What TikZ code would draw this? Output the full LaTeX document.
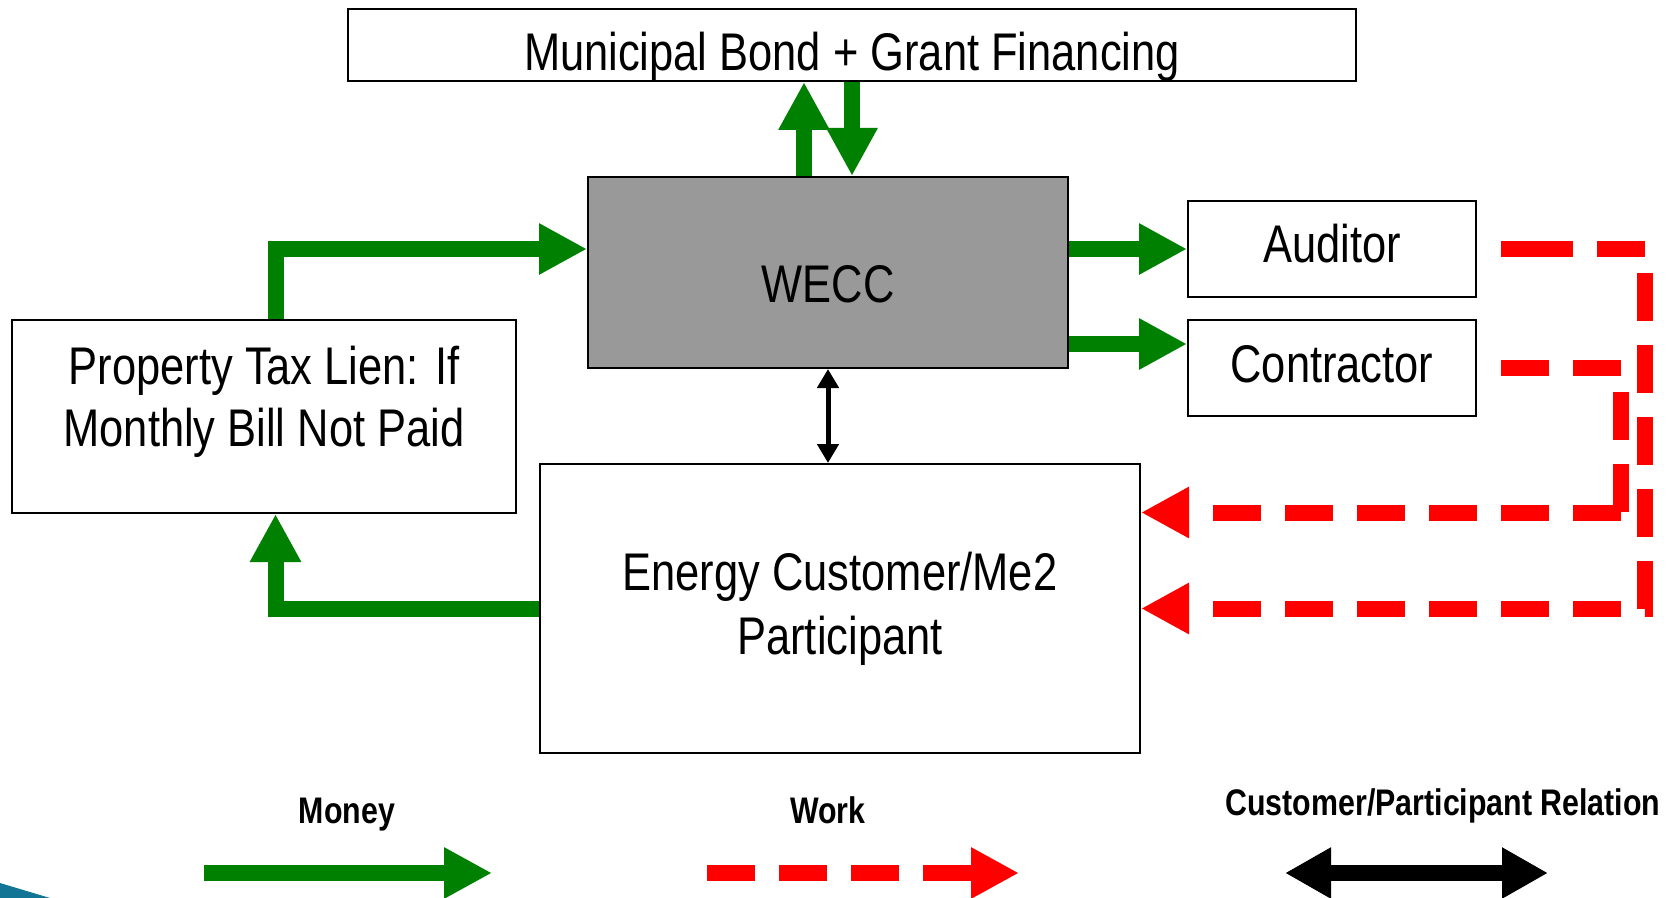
\documentclass[tikz,border=0pt]{standalone}
\usepackage{fontspec}
\setmainfont{Liberation Sans}[FakeStretch=0.82]
\newfontfamily\keyfont{Liberation Sans}[FakeStretch=0.82]
\usetikzlibrary{arrows.meta,calc,positioning}
\definecolor{moneygreen}{RGB}{0,128,0}
\definecolor{workred}{RGB}{255,0,0}
\definecolor{weccgray}{RGB}{153,153,153}
\definecolor{slideteal}{RGB}{18,117,150}
\tikzset{
  box/.style={draw, line width=1pt, inner sep=0pt},
  boxtext/.style={inner sep=0pt, align=center},
  money/.style={draw=moneygreen, line width=8pt, -{Triangle[length=24pt,width=24pt]}},
  work/.style={draw=workred, line width=8pt, dash pattern=on 24pt off 12pt,
    -{Triangle[length=24pt,width=24pt]}},
  workline/.style={work, -},
  relation/.style={draw=black, line width=2.5pt,
    {Triangle[length=9.5pt,width=10.5pt]}-{Triangle[length=9.5pt,width=10.5pt]}},
  relationkey/.style={draw=black, line width=8pt,
    {Triangle[length=23pt,width=24pt]}-{Triangle[length=23pt,width=24pt]}},
  keytext/.style={font=\keyfont\bfseries\fontsize{18.5pt}{20pt}\selectfont,
    inner sep=0pt, anchor=base},
}

\begin{document}
\begin{tikzpicture}[x=0.5pt, y=-0.5pt, font=\fontsize{26.5pt}{31pt}\selectfont]
    \useasboundingbox (0,0) rectangle (1674,898);
    \fill[slideteal] (0,883) -- (50,898) -- (0,898) -- cycle;

    \node[box, minimum width=504pt, minimum height=36pt,
      text height=26pt, text depth=0pt] (bond) at (852,45)
      {Municipal Bond + Grant Financing};
    \node[box, fill=weccgray, minimum width=240pt, minimum height=95.5pt,
      text height=30.5pt, text depth=0pt] (wecc) at (828,272.5) {WECC};
    \node[box, minimum width=144pt, minimum height=48pt,
      text height=19pt, text depth=5pt] (aud) at (1332,249) {Auditor};
    \node[box, minimum width=144pt, minimum height=48pt,
      text height=19pt, text depth=5pt] (con) at (1332,368) {Contractor};
    \node[box, minimum width=252pt, minimum height=96.5pt] (lien) at (264,416.5) {};
    \node[boxtext] (lientext) at ($(lien.center)+(0,-14.5)$)
      {Property Tax Lien: If\\Monthly Bill Not Paid};
    \node[box, align=center, minimum width=300pt, minimum height=144.5pt,
      font=\fontsize{26.5pt}{32pt}\selectfont] (cust) at (840,608.5)
      {Energy Customer/Me2\\Participant};

    % money
    \coordinate (upfoot) at ($(wecc.north)+(-24,0)$);
    \draw[money] (upfoot) -- (upfoot |- bond.south);
    \draw[money] (bond.south) -- (bond.south |- wecc.north);
    \coordinate (lienfoot) at ($(lien.north)+(11.5,0)$);
    \draw[money] (lienfoot) |- (wecc.west |- aud.west);
    \draw[money] (wecc.east |- aud.west) -- (aud.west);
    \coordinate (conin) at ($(con.west)+(0,-24)$);
    \draw[money] (wecc.east |- conin) -- (conin);
    \draw[money] (cust.west) -| (lienfoot |- lien.south);
    \draw[relation] (wecc.south) -- (wecc.south |- cust.north);

    % work
    \coordinate (audturn) at ($(aud.east)+(168,0)$);
    \draw[workline, dash pattern=on 36pt off 12pt on 24pt off 12pt]
      ($(aud.east)+(24,0)$) -- (audturn);
    \draw[work, dash phase=24pt] (audturn) |- (cust.east);
    \coordinate (conturn) at ($(con.east)+(144,0)$);
    \coordinate (custin) at ($(cust.east)+(0,-96)$);
    \draw[workline, dash phase=24pt] (con.east) -- (conturn) -- (conturn |- custin);
    \draw[work] (conturn |- custin) -- (custin);

    % legend
    \node[keytext] (moneykey) at (347,823) {Money};
    \node[keytext] (workkey) at (828,823) {Work};
    \node[keytext] (relkey) at (1443,815) {Customer/Participant Relation};
    \coordinate (money-a) at (204,873);
    \coordinate (money-b) at (492,873);
    \draw[money] (money-a) -- (money-b);
    \coordinate (work-a) at (707,873);
    \coordinate (work-b) at (1019,873);
    \draw[work] (work-a) -- (work-b);
    \coordinate (rel-a) at (1285,873);
    \coordinate (rel-b) at (1548,873);
    \draw[relationkey] (rel-a) -- (rel-b);
\end{tikzpicture}
\end{document}
